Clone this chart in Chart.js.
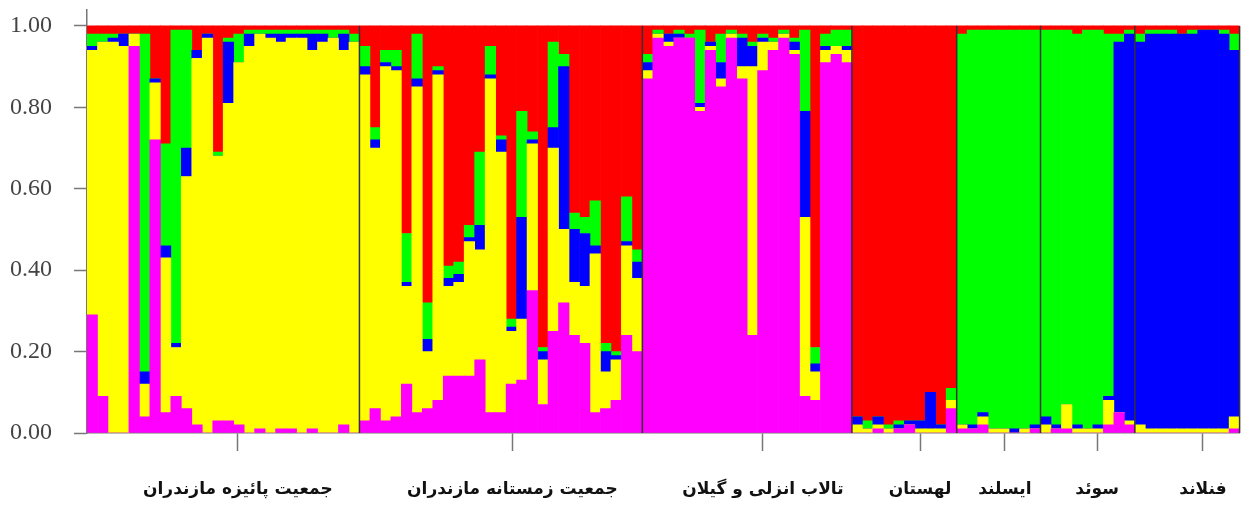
<!DOCTYPE html>
<html>
<head>
<meta charset="utf-8">
<script src="https://cdn.jsdelivr.net/npm/chart.js@4.4.1/dist/chart.umd.min.js"></script>
<style>
  html, body { margin: 0; padding: 0; background: #fff; }
  canvas { display: block; }
</style>
</head>
<body>
<canvas id="structureChart" width="1255" height="508"></canvas>
<script>
// Population groups (left to right) and number of individuals in each
const groupNames = ['جمعیت پائیزه مازندران', 'جمعیت زمستانه مازندران', 'تالاب انزلی و گیلان', 'لهستان', 'ایسلند', 'سوئد', 'فنلاند'];
const groupSizes = [26, 27, 20, 10, 8, 9, 10];
// where the group tick sits, in individual units from the left edge
const groupTickAt = [14.4, 40.6, 64.5, 79.5, 87.6, 96.4, 106.5];
const yTicks = [0, 0.2, 0.4, 0.6, 0.8, 1.0];

// membership per individual, one array per cluster (stacked bottom -> top)
const magentaShare = [
  0.29,0.09,0.00,0.00,0.95,0.04,0.72,0.05,0.09,0.06,0.02,0.00,0.03,0.03,0.02,0.00,0.01,0.00,0.01,0.01,0.00,0.01,0.00,0.00,0.02,0.00,
  0.03,0.06,0.03,0.04,0.12,0.05,0.06,0.08,0.14,0.14,0.14,0.18,0.05,0.05,0.12,0.13,0.35,0.07,0.25,0.32,0.24,0.22,0.05,0.06,0.08,0.24,0.20,
  0.87,0.97,0.95,0.97,0.97,0.79,0.94,0.85,0.97,0.87,0.24,0.89,0.94,0.97,0.93,0.09,0.08,0.91,0.93,0.91,
  0.00,0.00,0.01,0.00,0.01,0.02,0.00,0.00,0.00,0.06,
  0.01,0.01,0.02,0.00,0.00,0.00,0.00,0.01,
  0.00,0.01,0.01,0.00,0.00,0.00,0.02,0.05,0.02,
  0.00,0.00,0.00,0.00,0.00,0.00,0.00,0.00,0.00,0.01
];
const yellowShare = [
  0.65,0.87,0.96,0.95,0.03,0.08,0.14,0.38,0.12,0.57,0.90,0.97,0.65,0.78,0.89,0.95,0.97,0.97,0.95,0.96,0.97,0.93,0.96,0.97,0.92,0.96,
  0.85,0.64,0.87,0.85,0.24,0.80,0.14,0.80,0.22,0.23,0.33,0.27,0.82,0.64,0.13,0.15,0.36,0.11,0.45,0.18,0.13,0.14,0.39,0.09,0.10,0.22,0.18,
  0.02,0.01,0.01,0.00,0.00,0.01,0.01,0.02,0.01,0.03,0.66,0.07,0.02,0.01,0.01,0.44,0.07,0.03,0.02,0.03,
  0.02,0.01,0.01,0.01,0.00,0.00,0.01,0.01,0.01,0.02,
  0.01,0.00,0.02,0.01,0.01,0.00,0.01,0.00,
  0.02,0.00,0.06,0.01,0.01,0.01,0.06,0.00,0.01,
  0.02,0.01,0.01,0.01,0.01,0.01,0.01,0.01,0.01,0.03
];
const blueShare = [
  0.01,0.00,0.01,0.03,0.00,0.03,0.01,0.03,0.01,0.07,0.02,0.01,0.00,0.15,0.00,0.03,0.00,0.01,0.02,0.01,0.01,0.04,0.02,0.00,0.04,0.00,
  0.02,0.02,0.01,0.01,0.01,0.02,0.03,0.01,0.02,0.02,0.01,0.06,0.01,0.03,0.01,0.25,0.01,0.02,0.05,0.40,0.13,0.13,0.02,0.05,0.01,0.01,0.04,
  0.02,0.00,0.02,0.01,0.00,0.01,0.01,0.04,0.00,0.07,0.05,0.01,0.00,0.00,0.02,0.26,0.02,0.01,0.00,0.01,
  0.02,0.00,0.02,0.00,0.01,0.01,0.02,0.09,0.01,0.00,
  0.00,0.01,0.01,0.00,0.00,0.01,0.00,0.01,
  0.02,0.01,0.00,0.01,0.00,0.01,0.01,0.91,0.95,
  0.94,0.97,0.97,0.97,0.97,0.97,0.98,0.98,0.97,0.90
];
const greenShare = [
  0.03,0.02,0.01,0.00,0.00,0.83,0.00,0.25,0.77,0.29,0.00,0.00,0.01,0.01,0.07,0.01,0.01,0.01,0.01,0.01,0.01,0.01,0.01,0.02,0.01,0.02,
  0.05,0.03,0.03,0.04,0.12,0.11,0.09,0.01,0.03,0.03,0.03,0.18,0.07,0.01,0.02,0.26,0.02,0.01,0.21,0.03,0.04,0.04,0.11,0.02,0.01,0.11,0.03,
  0.02,0.01,0.00,0.01,0.01,0.18,0.00,0.07,0.01,0.01,0.01,0.01,0.01,0.01,0.01,0.20,0.04,0.03,0.04,0.04,
  0.00,0.02,0.00,0.01,0.01,0.00,0.00,0.00,0.00,0.03,
  0.96,0.97,0.94,0.98,0.98,0.98,0.98,0.97,
  0.95,0.97,0.92,0.96,0.98,0.97,0.89,0.02,0.01,
  0.02,0.01,0.01,0.01,0.00,0.01,0.00,0.00,0.01,0.04
];
const redShare = [
  0.02,0.02,0.02,0.02,0.02,0.02,0.13,0.29,0.01,0.01,0.06,0.02,0.31,0.03,0.02,0.01,0.01,0.01,0.01,0.01,0.01,0.01,0.01,0.01,0.01,0.02,
  0.05,0.25,0.06,0.06,0.51,0.02,0.68,0.10,0.59,0.58,0.49,0.31,0.05,0.27,0.72,0.21,0.26,0.79,0.04,0.07,0.46,0.47,0.43,0.78,0.80,0.42,0.55,
  0.07,0.01,0.02,0.01,0.02,0.01,0.04,0.02,0.01,0.02,0.04,0.02,0.03,0.01,0.03,0.01,0.79,0.02,0.01,0.01,
  0.96,0.97,0.96,0.98,0.97,0.97,0.97,0.90,0.98,0.89,
  0.02,0.01,0.01,0.01,0.01,0.01,0.01,0.01,
  0.01,0.01,0.01,0.02,0.01,0.01,0.02,0.02,0.01,
  0.02,0.01,0.01,0.01,0.02,0.01,0.01,0.01,0.01,0.02
];

const series = [
  { name: 'magenta', values: magentaShare, color: '#ff00ff' },
  { name: 'yellow', values: yellowShare, color: '#ffff00' },
  { name: 'blue', values: blueShare, color: '#0000ff' },
  { name: 'green', values: greenShare, color: '#00ff00' },
  { name: 'red', values: redShare, color: '#ff0000' }
];
const nInd = magentaShare.length;

// boundaries between populations, in individual units
const groupEdges = [];
let acc = 0;
groupSizes.forEach(n => { acc += n; groupEdges.push(acc); });

// thin dark lines separating the populations
const separatorPlugin = {
  id: 'separators',
  afterDatasetsDraw(chart) {
    const { ctx, scales } = chart;
    const top = scales.y.getPixelForValue(1.0);
    const bottom = scales.y.getPixelForValue(0);
    ctx.save();
    ctx.strokeStyle = '#333';
    ctx.lineWidth = 1.5;
    groupEdges.forEach(e => {
      const x = scales.x.getPixelForValue(e);
      ctx.beginPath();
      ctx.moveTo(x, top);
      ctx.lineTo(x, bottom);
      ctx.stroke();
    });
    ctx.restore();
  }
};

const ctx = document.getElementById('structureChart').getContext('2d');
new Chart(ctx, {
  type: 'bar',
  data: {
    datasets: series.map(s => ({
      label: s.name,
      data: s.values.map((v, i) => ({ x: i + 0.5, y: v })),
      backgroundColor: s.color,
      borderWidth: 0,
      categoryPercentage: 1.0,
      barPercentage: 1.0
    }))
  },
  options: {
    responsive: false,
    animation: false,
    layout: { padding: { left: 10, right: 15, top: 9, bottom: 0 } },
    plugins: {
      legend: { display: false },
      tooltip: { enabled: false }
    },
    scales: {
      x: {
        type: 'linear',
        stacked: true,
        offset: false,
        min: 0,
        max: nInd,
        afterBuildTicks: axis => { axis.ticks = groupTickAt.map(v => ({ value: v })); },
        afterFit: axis => { axis.height = 75; },
        grid: { offset: false, drawOnChartArea: false, drawTicks: true, tickLength: 18, tickColor: '#777', tickWidth: 1.5 },
        border: { color: '#777', width: 1.5 },
        ticks: {
          autoSkip: false,
          maxRotation: 0,
          minRotation: 0,
          padding: 28,
          color: '#111',
          font: { family: 'DejaVu Sans', size: 17, weight: 'bold' },
          callback: (value, index) => groupNames[index]
        }
      },
      y: {
        stacked: true,
        min: 0,
        max: 1.04,
        afterBuildTicks: axis => { axis.ticks = yTicks.map(v => ({ value: v })); },
        afterFit: axis => { axis.width = 77; },
        grid: { drawOnChartArea: false, drawTicks: true, tickLength: 13, tickColor: '#777', tickWidth: 1.5 },
        border: { color: '#777', width: 1.5 },
        ticks: {
          crossAlign: 'far',
          padding: 0,
          color: '#444',
          font: { family: 'Liberation Serif', size: 24, lineHeight: 0.8 },
          callback: v => v.toFixed(2)
        }
      }
    }
  },
  plugins: [separatorPlugin]
});
</script>
</body>
</html>
